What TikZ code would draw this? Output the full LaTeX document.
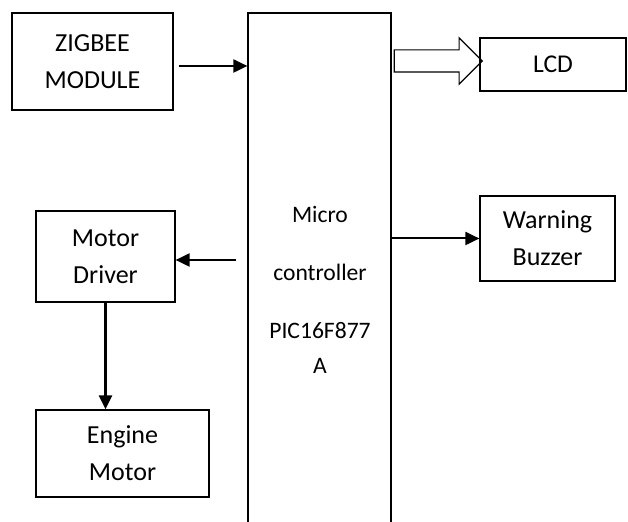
\documentclass[tikz,border=0pt]{standalone}
\usepackage{fontspec}
\setmainfont{Carlito}
\usepackage{tikz}
\usetikzlibrary{arrows.meta,shapes.arrows}

\begin{document}
\begin{tikzpicture}[x=0.5pt,y=-0.5pt,
    block/.style={draw,line width=0.6pt,align=center,inner sep=0pt,font=\fontsize{13}{18.5}\selectfont},
    arr/.style={line width=1pt,-{Triangle[length=7pt,width=6.5pt]}},
    busarrow/.style={draw,line width=0.6pt,single arrow,single arrow head extend=6pt,
      single arrow tip angle=90,minimum height=44pt,inner sep=0pt}]
  \useasboundingbox (0,0) rectangle (628,522);
  \clip (0,0) rectangle (628,522);
  % blocks
  \node[block,minimum width=80.5pt,minimum height=48.5pt] (zigbee) at (92.5,61.5) {ZIGBEE\\MODULE};
  \node[block,minimum width=71.5pt,minimum height=264pt] (mcu) at (319.5,277) {};
  \node[align=center,inner sep=0pt,font=\fontsize{11.8}{16}\selectfont] (mcutext) at (320,290)
    {Micro\\[13pt]controller\\[13pt]PIC16F877\\[1.5pt]A};
  \node[block,font=\fontsize{12.8}{16}\selectfont,minimum width=73pt,minimum height=26.5pt] (lcd) at (553,64.5) {LCD};
  \node[block,minimum width=67.5pt,minimum height=42.5pt] (buzzer) at (547.5,238.5) {Warning\\Buzzer};
  \node[block,minimum width=69.5pt,minimum height=45.5pt] (driver) at (105.5,256.5) {Motor\\Driver};
  \node[block,minimum width=86.5pt,minimum height=43.5pt] (engine) at (122.5,453.5) {Engine\\Motor};
  % connectors
  \draw[arr] ([xshift=2.5pt,yshift=-2.25pt]zigbee.east) -- ([yshift=-2.25pt]zigbee.east -| mcu.west);
  \node[busarrow,anchor=tail] (bus) at ([xshift=1pt,yshift=1.75pt]mcu.east |- lcd.west) {\rule{0pt}{10.5pt}};
  \draw[arr] (mcu.east |- buzzer.west) -- (buzzer.west);
  \draw[arr] ([xshift=-5.5pt,yshift=-1.75pt]mcu.west |- driver.east) -- ([yshift=-1.75pt]driver.east);
  \draw[arr,line width=1.3pt] (driver.south) -- (driver.south |- engine.north);
\end{tikzpicture}
\end{document}
